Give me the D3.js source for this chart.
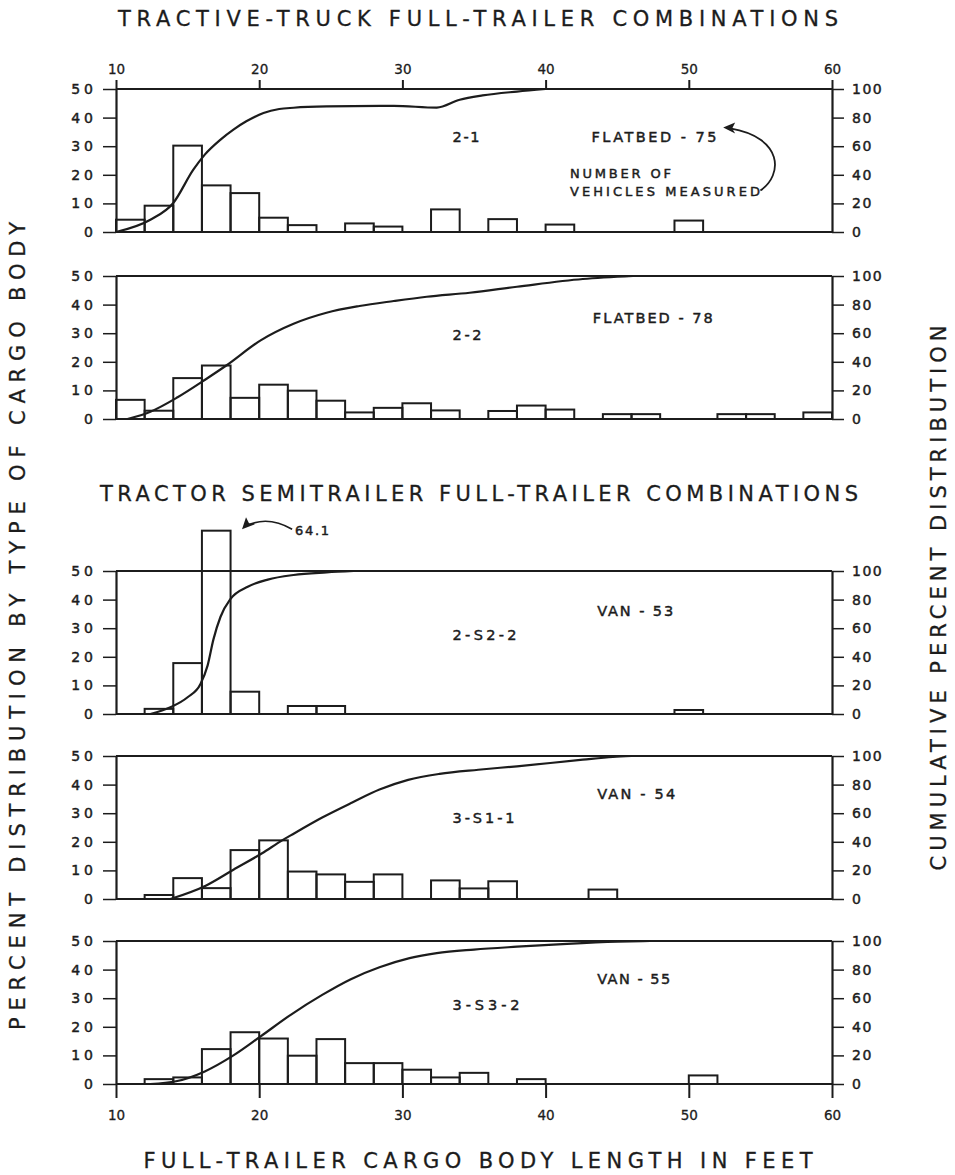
<!DOCTYPE html>
<html><head><meta charset="utf-8">
<script src="https://cdn.jsdelivr.net/npm/d3@7"></script>
<style>body{margin:0;background:#fff}</style>
</head><body>
<svg id="c" width="955" height="1175"></svg>
<script>
// ---------- DATA ----------
const xTicks = [10, 20, 30, 40, 50, 60];
const leftTicks = [0, 10, 20, 30, 40, 50];
const rightTicks = [0, 20, 40, 60, 80, 100];

const titleTop = "TRACTIVE-TRUCK FULL-TRAILER COMBINATIONS";
const titleMid = "TRACTOR SEMITRAILER FULL-TRAILER COMBINATIONS";
const titleBottom = "FULL-TRAILER CARGO BODY LENGTH IN FEET";
const titleLeft = "PERCENT DISTRIBUTION BY TYPE OF CARGO BODY";
const titleRight = "CUMULATIVE PERCENT DISTRIBUTION";

const codes = ["2-1", "2-2", "2-S2-2", "3-S1-1", "3-S3-2"];
const bodies = ["FLATBED - 75", "FLATBED - 78", "VAN - 53", "VAN - 54", "VAN - 55"];

// bin start (ft, 2-ft wide bins) and percent of vehicles
const p1Bins = [10, 12, 14, 16, 18, 20, 22, 26, 28, 32, 36, 40, 49];
const p1Pct  = [4.3, 9.2, 30.2, 16.3, 13.6, 5.0, 2.4, 3.0, 1.9, 7.9, 4.5, 2.6, 4.0];
const p1CumFt  = [10, 12.4, 14.0, 15.4, 16.2, 17.3, 18.2, 19.1, 20.3, 21.4, 22.4, 24.7, 29.4, 32.4, 34.0, 35.6, 38.0, 40];
const p1CumPct = [0, 8.6, 20.3, 43.6, 54.1, 64.6, 71.6, 77.4, 83.2, 86.0, 86.9, 87.8, 88.2, 87.0, 92.5, 95.5, 98.2, 100];

const p2Bins = [10, 12, 14, 16, 18, 20, 22, 24, 26, 28, 30, 32, 36, 38, 40, 44, 46, 52, 54, 58];
const p2Pct  = [6.7, 2.9, 14.3, 18.7, 7.4, 12.0, 9.9, 6.4, 2.3, 3.9, 5.5, 3.0, 2.8, 4.7, 3.3, 1.7, 1.7, 1.7, 1.7, 2.3];
const p2CumFt  = [10.8, 12.4, 14.3, 16.3, 17.7, 20.1, 22.4, 24.7, 27.0, 29.4, 31.7, 34.7, 38.0, 42.6, 46.1];
const p2CumPct = [0, 5.1, 15.2, 28.0, 37.4, 55.0, 66.6, 74.3, 79.0, 82.5, 85.5, 88.3, 92.5, 97.9, 100];

const p3Bins = [12, 14, 16, 18, 22, 24, 49];
const p3Pct  = [1.8, 17.8, 64.1, 7.8, 2.8, 2.8, 1.4];
const p3CumFt  = [12.4, 13.8, 15.0, 15.9, 16.4, 16.8, 17.3, 18.0, 19.2, 20.6, 22.4, 24.7, 26.6];
const p3CumPct = [0, 4.7, 11.7, 21.0, 34.0, 52.0, 68.0, 80.5, 89.0, 94.0, 97.2, 99.0, 100];

const p4Bins = [12, 14, 16, 18, 20, 22, 24, 26, 28, 32, 34, 36, 43];
const p4Pct  = [1.4, 7.3, 3.8, 17.1, 20.5, 9.6, 8.6, 6.0, 8.6, 6.5, 3.7, 6.2, 3.3];
const p4CumFt  = [13.8, 16.3, 18.2, 20.2, 21.6, 22.2, 24.4, 26.5, 28.4, 30.4, 32.6, 35.3, 38.0, 42.6, 44.7, 46.0];
const p4CumPct = [0, 9.5, 20.5, 32.0, 41.0, 44.5, 57.0, 67.5, 76.5, 83.3, 87.5, 90.4, 92.8, 97.4, 99.3, 100];

const p5Bins = [12, 14, 16, 18, 20, 22, 24, 26, 28, 30, 32, 34, 38, 50];
const p5Pct  = [1.7, 2.3, 12.2, 18.1, 15.9, 9.9, 15.7, 7.3, 7.3, 5.0, 2.3, 3.9, 1.7, 3.0];
const p5CumFt  = [12.4, 14.2, 16.2, 18.2, 20.1, 22.2, 24.4, 26.4, 28.4, 30.5, 32.4, 35.0, 38.0, 41.5, 45.0, 47.3];
const p5CumPct = [0, 1.9, 8.8, 20.0, 33.3, 48.4, 62.3, 73.3, 81.6, 88.0, 91.5, 94.0, 96.0, 98.0, 99.5, 100];

const peakLabel = "64.1";
const noteLines = ["NUMBER OF", "VEHICLES MEASURED"];

// ---------- LAYOUT ----------
const panels = [
  {bins: p1Bins, pct: p1Pct, cf: p1CumFt, cp: p1CumPct},
  {bins: p2Bins, pct: p2Pct, cf: p2CumFt, cp: p2CumPct},
  {bins: p3Bins, pct: p3Pct, cf: p3CumFt, cp: p3CumPct},
  {bins: p4Bins, pct: p4Pct, cf: p4CumFt, cp: p4CumPct},
  {bins: p5Bins, pct: p5Pct, cf: p5CumFt, cp: p5CumPct}
];
const tops = [89, 276, 571, 756, 941];
const H = 143;
// label placement: [codeX(ft), codeY(left %), codeW, bodyX, bodyY, bodyW]
const labelPos = [
  [33.5, 33.2, 27, 43.2, 33.2, 125],
  [33.5, 29.6, 29, 43.3, 35.4, 120],
  [33.5, 27.7, 64, 43.6, 36.2, 76],
  [33.5, 28.5, 62, 43.6, 36.8, 78],
  [33.5, 27.6, 67, 43.6, 36.7, 73]
];

const ink = "#1c1c1c";
const FONT = "'DejaVu Sans', 'Liberation Sans', sans-serif";
const svg = d3.select("#c");
const x = d3.scaleLinear().domain([10, 60]).range([116, 832]);

function lettering(sel, size) {
  return sel.attr("font-family", FONT).attr("font-size", size).attr("fill", ink)
    .attr("stroke", ink).attr("stroke-width", 0.45);
}

panels.forEach((p, i) => {
  const top = tops[i], y0 = top + H;
  const yL = d3.scaleLinear().domain([0, 50]).range([y0, top]);
  const yR = d3.scaleLinear().domain([0, 100]).range([y0, top]);
  const g = svg.append("g");

  // bars
  g.selectAll("rect.bar").data(p.bins.map((b, j) => ({b, v: p.pct[j]})))
    .join("rect").attr("class", "bar")
    .attr("x", d => x(d.b)).attr("width", d => x(d.b + 2) - x(d.b))
    .attr("y", d => yL(d.v)).attr("height", d => y0 - yL(d.v))
    .attr("fill", "none").attr("stroke", ink).attr("stroke-width", 2);

  // frame top & base lines
  g.append("line").attr("x1", x(10)).attr("x2", x(60)).attr("y1", top).attr("y2", top)
    .attr("stroke", ink).attr("stroke-width", 2);
  g.append("line").attr("x1", x(10)).attr("x2", x(60)).attr("y1", y0).attr("y2", y0)
    .attr("stroke", ink).attr("stroke-width", 2);

  // left axis
  const la = g.append("g").attr("transform", `translate(${x(10)},0)`)
    .call(d3.axisLeft(yL).tickValues(leftTicks).tickSize(13).tickSizeOuter(0).tickPadding(6));
  // right axis
  const ra = g.append("g").attr("transform", `translate(${x(60)},0)`)
    .call(d3.axisRight(yR).tickValues(rightTicks).tickSize(12).tickSizeOuter(0).tickPadding(8));
  [la, ra].forEach(a => {
    a.select(".domain").attr("stroke", ink).attr("stroke-width", 2.2);
    a.selectAll(".tick line").attr("stroke", ink).attr("stroke-width", 1.5);
    lettering(a.selectAll(".tick text"), 14);
  });
  la.selectAll(".tick text").attr("letter-spacing", 4);
  ra.selectAll(".tick text").attr("letter-spacing", 1.5);

  // cumulative curve
  const line = d3.line().x(d => x(d[0])).y(d => yR(d[1])).curve(d3.curveMonotoneX);
  g.append("path").datum(p.cf.map((f, j) => [f, p.cp[j]]))
    .attr("d", line).attr("fill", "none").attr("stroke", ink).attr("stroke-width", 2.2);

  // labels
  const L = labelPos[i];
  lettering(g.append("text").attr("x", x(L[0])).attr("y", yL(L[1])).attr("dy", "0.36em")
    .attr("textLength", L[2]).attr("lengthAdjust", "spacing"), 14.5).text(codes[i]);
  lettering(g.append("text").attr("x", x(L[3])).attr("y", yL(L[4])).attr("dy", "0.36em")
    .attr("textLength", L[5]).attr("lengthAdjust", "spacing"), 14.5).text(bodies[i]);

  // top axis (first panel) / bottom axis (last panel)
  if (i === 0) {
    const ta = g.append("g").attr("transform", `translate(0,${top})`)
      .call(d3.axisTop(x).tickValues(xTicks).tickSize(9).tickSizeOuter(0).tickPadding(6));
    ta.select(".domain").remove();
    ta.selectAll(".tick line").attr("stroke", ink).attr("stroke-width", 2);
    lettering(ta.selectAll(".tick text"), 13.5).attr("stroke-width", 0.3);

    // annotation arrow "number of vehicles measured"
    const ann = d3.path();
    ann.moveTo(x(55.0), yL(14.5));
    ann.bezierCurveTo(x(56.6), yL(20), x(56.6), yL(33), x(52.9), yL(36.2));
    g.append("path").attr("d", ann.toString()).attr("fill", "none").attr("stroke", ink).attr("stroke-width", 1.8);
    const tx = x(52.4), ty = yL(36.5);
    g.append("path").attr("d", `M${tx},${ty} l12,-5 l-3,6 l3,5 z`).attr("fill", ink);
    noteLines.forEach((t, k) => {
      lettering(g.append("text").attr("x", x(41.7)).attr("y", yL(k === 0 ? 20.6 : 14.1)).attr("dy", "0.36em")
        .attr("textLength", k === 0 ? 101 : 190).attr("lengthAdjust", "spacing"), 13).text(t);
    });
  }
  if (i === 2) {
    const ann = d3.path();
    ann.moveTo(x(22.3), yL(64.6));
    ann.quadraticCurveTo(x(20.6), yL(69.5), x(19.1), yL(65.8));
    g.append("path").attr("d", ann.toString()).attr("fill", "none").attr("stroke", ink).attr("stroke-width", 1.6);
    const tx = x(18.8), ty = yL(64.6);
    g.append("path").attr("d", `M${tx},${ty} l4,-12 l3,6 l6,1 z`).attr("fill", ink);
    lettering(g.append("text").attr("x", x(22.5)).attr("y", yL(64.3)).attr("dy", "0.36em")
      .attr("textLength", 34).attr("lengthAdjust", "spacing"), 13).text(peakLabel);
  }
  if (i === 4) {
    const ba = g.append("g").attr("transform", `translate(0,${y0})`)
      .call(d3.axisBottom(x).tickValues(xTicks).tickSize(14).tickSizeOuter(0).tickPadding(12));
    ba.select(".domain").remove();
    ba.selectAll(".tick line").attr("stroke", ink).attr("stroke-width", 2);
    lettering(ba.selectAll(".tick text"), 13.5).attr("stroke-width", 0.3);
  }
});

// titles
function title(txt, cx, cy, len, rot) {
  svg.append("text").attr("transform", `translate(${cx},${cy}) rotate(${rot || 0})`)
    .attr("text-anchor", "middle").attr("dy", "0.36em")
    .attr("textLength", len).attr("lengthAdjust", "spacing")
    .attr("font-family", FONT).attr("font-size", 21).attr("fill", ink)
    .attr("stroke", ink).attr("stroke-width", 0.3).text(txt);
}
title(titleTop, 478, 18, 720);
title(titleMid, 479, 493, 758);
title(titleBottom, 478, 1160, 669);
title(titleLeft, 17, 626, 808, -90);
title(titleRight, 938, 598, 545, -90);
</script>
</body></html>
